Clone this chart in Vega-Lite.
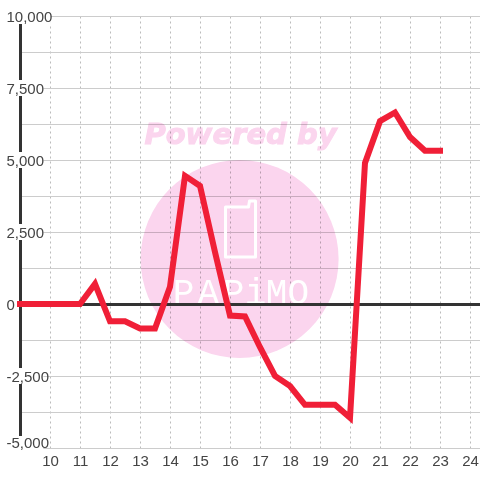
{
"$schema":"https://vega.github.io/schema/vega-lite/v6.json",
"width":460,"height":432,"autosize":{"type":"none"},
"padding":{"left":20,"top":16,"right":0,"bottom":32},
"background":"white",
"config":{"view":{"stroke":null},"text":{"font":"Liberation Sans"}},
"resolve":{"axis":{"x":"independent","y":"independent"}},
"datasets":{
"series":[
{"hour":9,"v":0},{"hour":9.5,"v":0},{"hour":10,"v":0},{"hour":10.5,"v":0},{"hour":11,"v":0},{"hour":11.5,"v":700},{"hour":12,"v":-600},{"hour":12.5,"v":-600},{"hour":13,"v":-850},{"hour":13.5,"v":-850},{"hour":14,"v":600},{"hour":14.5,"v":4450},{"hour":15,"v":4100},{"hour":15.5,"v":1800},{"hour":16,"v":-400},{"hour":16.5,"v":-430},{"hour":17,"v":-1500},{"hour":17.5,"v":-2500},{"hour":18,"v":-2850},{"hour":18.5,"v":-3500},{"hour":19,"v":-3500},{"hour":19.5,"v":-3500},{"hour":20,"v":-3950},{"hour":20.5,"v":4900},{"hour":21,"v":6350},{"hour":21.5,"v":6650},{"hour":22,"v":5800},{"hour":22.5,"v":5320},{"hour":23,"v":5320}],
"labels":[{"v":10000},{"v":7500},{"v":5000},{"v":2500},{"v":-2500},{"v":-5000}],
"phone":[{"i":1,"hour":15.85,"v":3368},{"i":2,"hour":16.617,"v":3368},{"i":3,"hour":16.65,"v":3576},{"i":4,"hour":16.85,"v":3576},{"i":5,"hour":16.85,"v":1632},{"i":6,"hour":15.85,"v":1632},{"i":7,"hour":15.85,"v":3368}],
"letters":[{"letter":"P","hour":14.45,"v":0},{"letter":"A","hour":15.28,"v":0},{"letter":"P","hour":16.12,"v":0},{"letter":"i","hour":16.85,"v":0},{"letter":"M","hour":17.55,"v":0},{"letter":"O","hour":18.28,"v":0}]
},
"layer":[
{"data":{"values":[{"hour":16.32,"v":1562}]},
 "mark":{"type":"point","filled":true,"shape":"circle","size":39204,"color":"#FBD5EE","opacity":1,"blend":"multiply","clip":false},
 "encoding":{
  "x":{"field":"hour","type":"quantitative","title":null,"scale":{"domain":[9,24.3333],"nice":false,"zero":false},
   "axis":{"zindex":0,"orient":"bottom","values":[10,11,12,13,14,15,16,17,18,19,20,21,22,23,24],"domain":false,"ticks":false,"labels":false,"grid":true,"gridColor":"#bbb","gridDash":[2,3],"gridWidth":1}},
  "y":{"field":"v","type":"quantitative","title":null,"scale":{"domain":[-5000,10000],"nice":false,"zero":false},
   "axis":{"zindex":0,"orient":"left","values":[-5000,-3750,-2500,-1250,0,1250,2500,3750,5000,6250,7500,8750,10000],"domain":false,"ticks":false,"labels":false,"grid":true,"gridColor":"#ccc","gridWidth":1}}
 }},
{"data":{"values":[{"t":"Powered by","hour":16.35,"v":5555}]},
 "mark":{"type":"text","font":"DejaVu Sans","fontWeight":"bold","fontStyle":"italic","fontSize":29,"color":"#FBD5EE","stroke":"#FBD5EE","strokeWidth":1,"baseline":"alphabetic","align":"center","blend":"multiply"},
 "encoding":{"x":{"field":"hour","type":"quantitative","axis":null},"y":{"field":"v","type":"quantitative","axis":null},"text":{"field":"t"}}},
{"data":{"name":"phone"},
 "mark":{"type":"line","color":"white","strokeWidth":3,"strokeJoin":"round","strokeCap":"round"},
 "encoding":{"x":{"field":"hour","type":"quantitative","axis":null},"y":{"field":"v","type":"quantitative","axis":null},"order":{"field":"i"}}},
{"data":{"name":"letters"},
 "mark":{"type":"text","font":"Liberation Mono","fontSize":36,"color":"white","baseline":"alphabetic","align":"center"},
 "encoding":{"x":{"field":"hour","type":"quantitative","axis":null},"y":{"field":"v","type":"quantitative","axis":null},"text":{"field":"letter"}}},
{"data":{"values":[{}]},"mark":{"type":"rule","color":"#333","strokeWidth":3,"xOffset":0.5},"encoding":{"x":{"datum":9,"axis":null},"y":{"datum":-5000,"axis":null},"y2":{"datum":10000}}},
{"data":{"values":[{}]},"mark":{"type":"rule","color":"#333","strokeWidth":3,"yOffset":0.5},"encoding":{"y":{"datum":0,"axis":null},"x":{"datum":9,"axis":null},"x2":{"datum":24.3333}}},
{"data":{"name":"labels"},"transform":[{"filter":"datum.v==10000"}],
 "mark":{"type":"rect","color":"white","height":16},
 "encoding":{"x":{"datum":8.85,"axis":null},"x2":{"datum":10.03},"y":{"field":"v","type":"quantitative","axis":null}}},
{"data":{"name":"labels"},"transform":[{"filter":"datum.v!=10000"}],
 "mark":{"type":"rect","color":"white","height":{"expr":"datum.v==-5000?24:16"}},
 "encoding":{"x":{"datum":8.85,"axis":null},"x2":{"datum":9.78},"y":{"field":"v","type":"quantitative","axis":null}}},
{"data":{"name":"series"},
 "mark":{"type":"line","color":"#F01F37","strokeWidth":6,"strokeCap":"square","strokeJoin":"miter","clip":false},
 "encoding":{
  "x":{"field":"hour","type":"quantitative","title":null,
   "axis":{"zindex":1,"orient":"bottom","values":[10,11,12,13,14,15,16,17,18,19,20,21,22,23,24],"domain":false,"ticks":false,"grid":false,"labelFont":"Liberation Sans","labelFontSize":15,"labelColor":"#444","labelPadding":5,"labelFlush":false,"labelOverlap":false,"labelBound":false}},
  "y":{"field":"v","type":"quantitative","title":null,
   "axis":{"zindex":1,"orient":"left","values":[-5000,-2500,0,2500,5000,7500,10000],"domain":false,"ticks":false,"grid":false,"labelFont":"Liberation Sans","labelFontSize":15,"labelColor":"#444","labelAlign":"left","labelPadding":14,"labelOverlap":false,"labelBound":false,"labelFlush":false,
    "labelExpr":"replace(format(datum.value,',.0f'),'−','-')",
    "labelOffset":{"expr":"datum.value==-5000?-6:0"},
    "encoding":{"labels":{"update":{"dx":{"signal":"datum.value<0?-4:datum.value==0?2:0"}}}}}}
 }}
]
}
